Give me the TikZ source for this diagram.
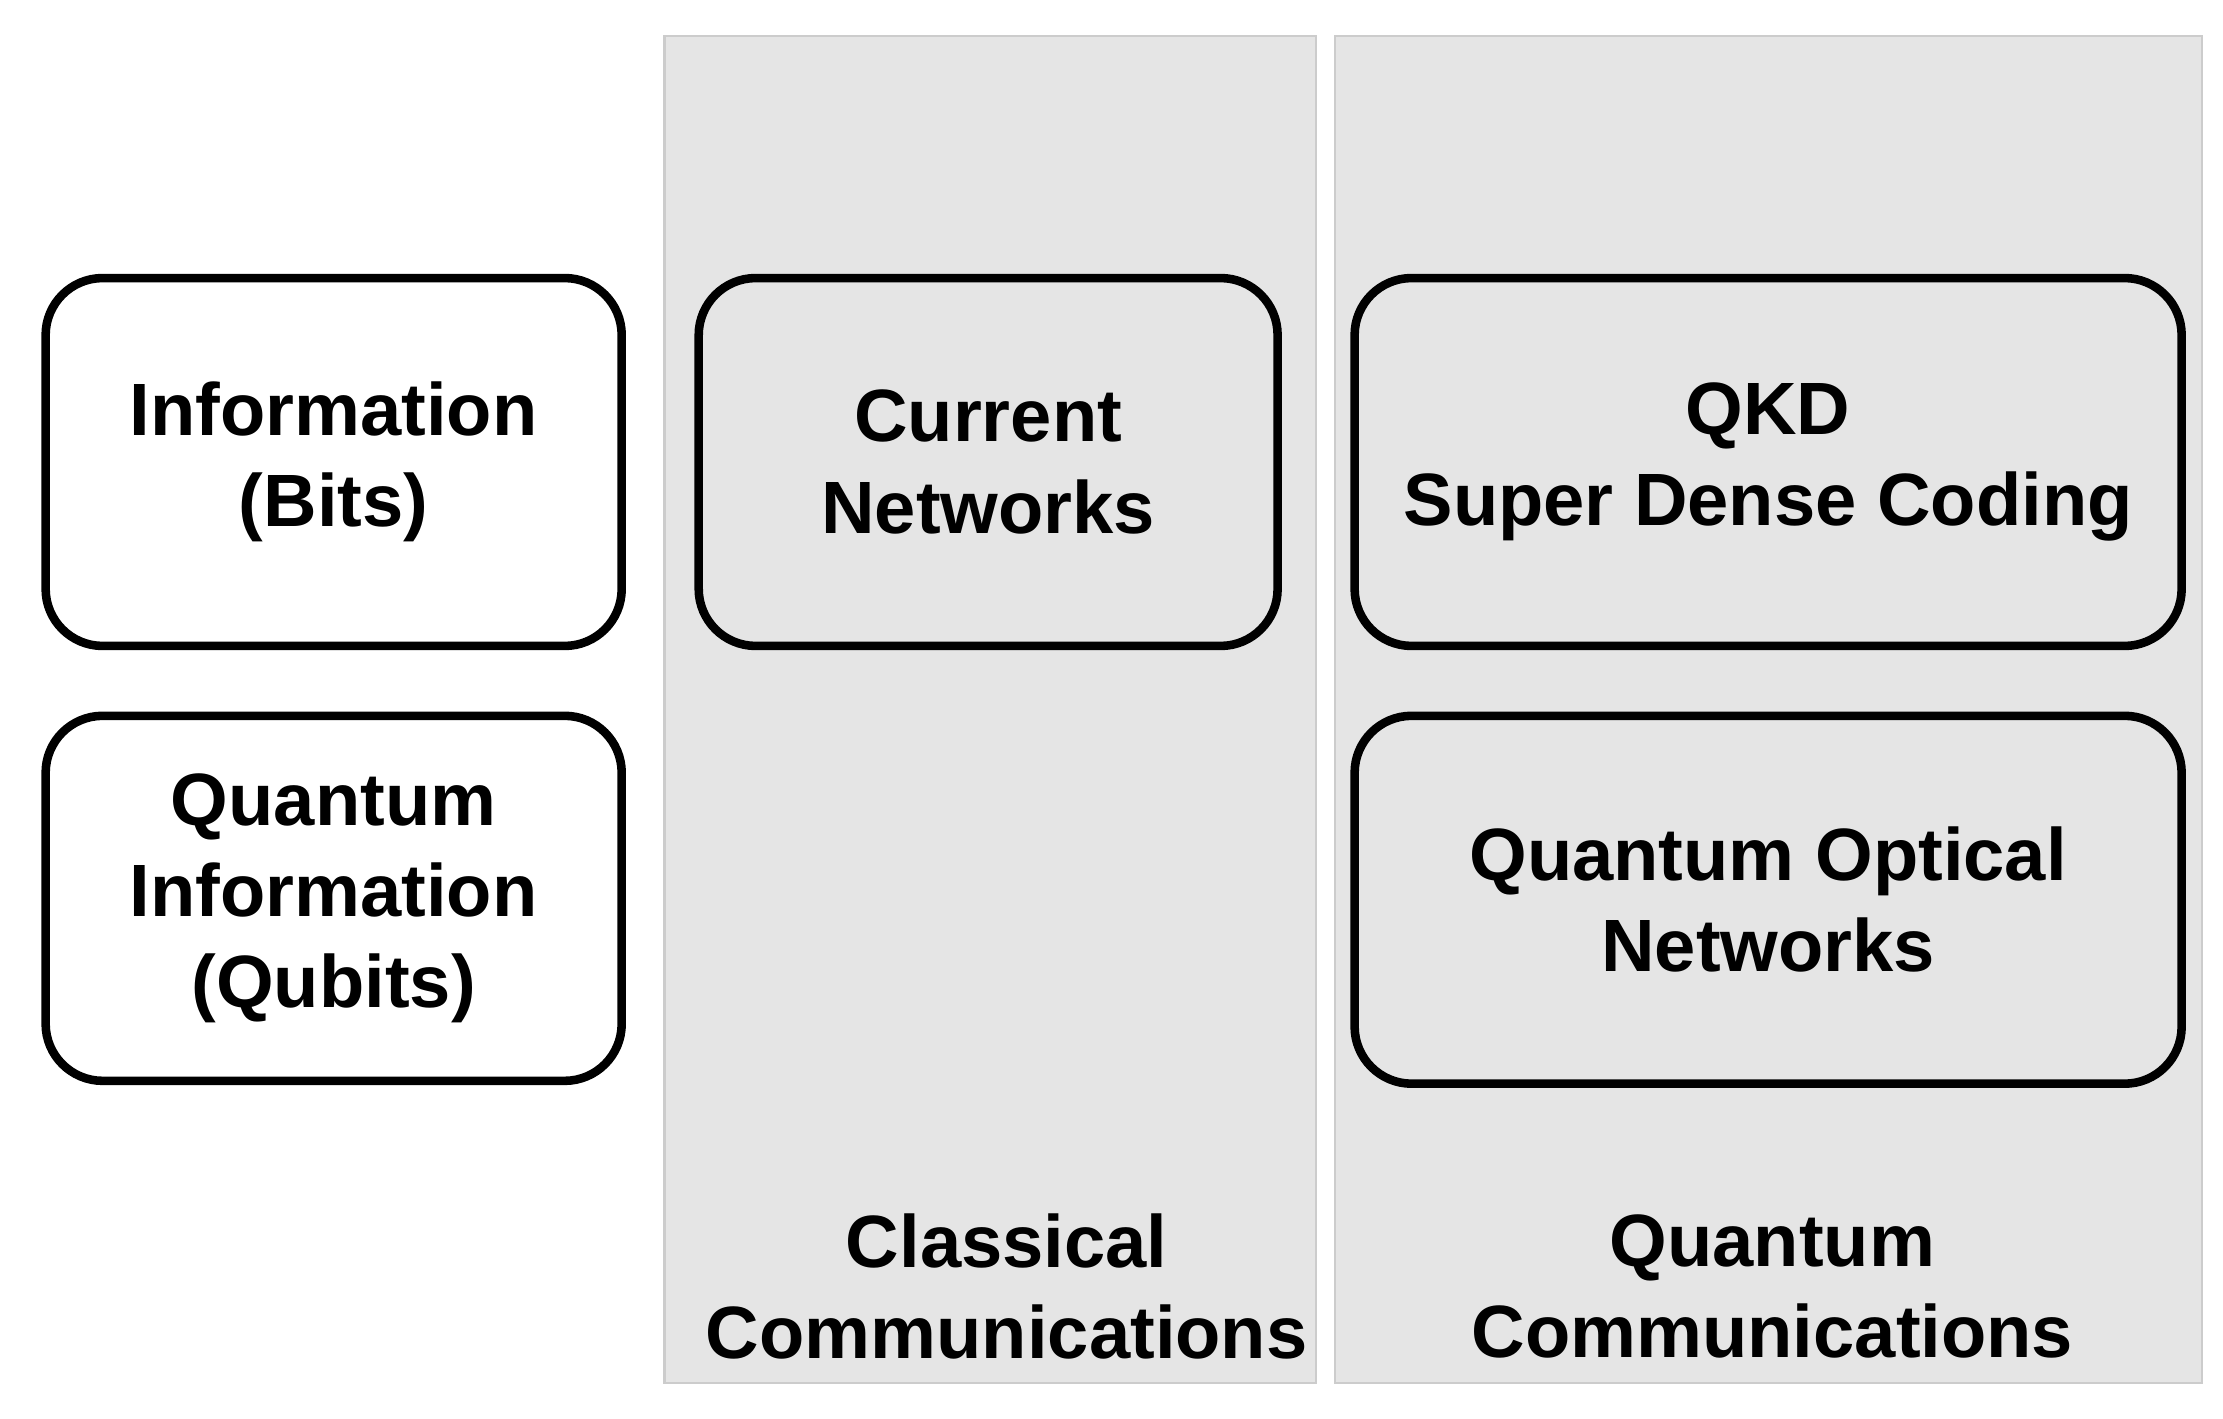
\documentclass[tikz,border=0pt]{standalone}
\usepackage{fontspec}
\setmainfont{Liberation Sans}
\begin{document}
\begin{tikzpicture}[x=1pt,y=-1pt,
  panel/.style={fill=black!10,draw=black!20,line width=1.5pt},
  box/.style={draw=black,line width=6pt,rounded corners=40pt},
  txt/.style={font=\fontsize{52}{64}\selectfont\bfseries,align=center}]
\useasboundingbox (0,0) rectangle (1559,995);
\fill[white] (0,0) rectangle (1559,995);
\draw[panel] (466,25) rectangle (923,970);
\draw[panel] (936,25) rectangle (1544,970);
\draw[box,fill=white] (32,195) rectangle (436,453);
\draw[box,fill=white] (32,502) rectangle (436,758);
\draw[box] (490,195) rectangle (896,453);
\draw[box] (950,195) rectangle (1530,453);
\draw[box] (950,502) rectangle (1530,760);
\node[txt] (info) at (234,324) {Information\\(Bits)};
\node[txt] (qinfo) at (234,630) {Quantum\\Information\\(Qubits)};
\node[txt] (cur) at (693,324) {Current\\Networks};
\node[txt] (qkd) at (1240,324) {QKD\\Super Dense Coding};
\node[txt] (qon) at (1240,631) {Quantum Optical\\Networks};
\node[txt] (cc) at (706,902) {Classical\\Communications};
\node[txt] (qc) at (1243,902) {Quantum\\Communications};
\end{tikzpicture}
\end{document}
